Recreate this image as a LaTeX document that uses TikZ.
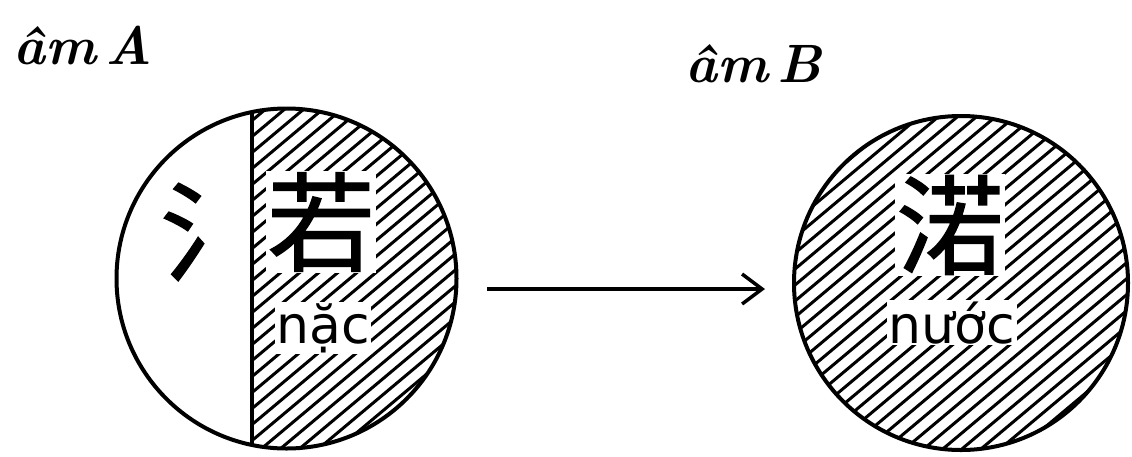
\documentclass[tikz,border=0pt]{standalone}
\usepackage{fontspec}
\usetikzlibrary{arrows.meta}
\newfontfamily\cjk[FakeBold=1.2]{Noto Sans CJK SC}
\newfontfamily\viet{DejaVu Sans}
\tikzset{
  ring/.style={circle, draw, line width=4pt, inner sep=0pt, minimum size=#1},
  hatchline/.style={line width=3pt},
  hanzi/.style={font=\cjk\fontsize{108}{108}\selectfont, inner sep=1pt},
  reading/.style={font=\viet\fontsize{52}{52}\selectfont, inner sep=1.5pt, fill=white},
  hand/.style={font=\bfseries\itshape\fontsize{54}{54}\selectfont, inner sep=0pt},
  arr/.style={line width=3.5pt, -{Straight Barb[length=20pt, width=30pt, line width=3.5pt]}}
}
\begin{document}
\begin{tikzpicture}[x=1pt, y=-1pt]
\useasboundingbox (0,0) rectangle (1132,456);
% hatching left (right half of circle A)
\begin{scope}
  \clip (252,0) rectangle (470,460);
  \clip (286.5,278.5) circle (170pt);
  \foreach \c in {300,316,...,860} {
    \draw[hatchline] (100,\c-83.9) -- (480,\c-402.7);
  }
\end{scope}
% hatching right circle
\begin{scope}
  \clip (961,283) circle (167pt);
  \foreach \c in {760,776,...,1420} {
    \draw[hatchline] (780,\c-654.4) -- (1140,\c-956.5);
  }
\end{scope}
% circles
\node[ring=340pt] (A) at (286.5,278.5) {};
\node[ring=334pt] (B) at (961,283) {};
% dividing line
\begin{scope}
  \clip (286.5,278.5) circle (170pt);
  \coordinate (dtop) at (252,100);
  \coordinate (dbot) at (252,460);
  \draw[line width=3.5pt] (dtop) -- (dbot);
\end{scope}
% texts
\node[hanzi] (shui) at (214,232) {氵};
\node[hanzi, fill=white] (ruo) at (321,222) {若};
\node[reading, anchor=base] (nac) at (323,343) {nặc};
\node[hanzi, fill=white] (nuo) at (950,225) {渃};
\node[reading, anchor=base] (nuoc) at (952,343) {nước};
\node[hand, anchor=base west] (amA) at (13,64) {âm\,A};
\node[hand, anchor=base west] (amB) at (685,82) {âm\,B};
% arrow
\coordinate (as) at (487,289);
\coordinate (ae) at (765,289);
\draw[arr] (as) -- (ae);
\end{tikzpicture}
\end{document}
